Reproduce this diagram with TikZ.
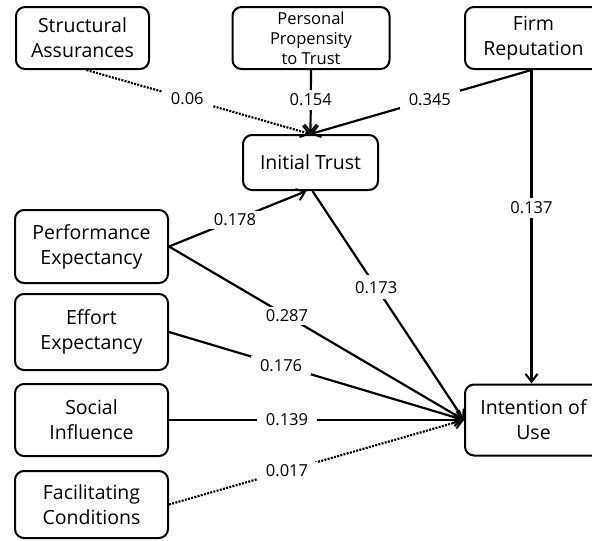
\documentclass[tikz,border=0pt]{standalone}
\usepackage{fontspec}
\setmainfont{Open Sans}
\usetikzlibrary{arrows.meta,calc}
\begin{document}
\begin{tikzpicture}[x=1pt,y=-1pt,
 box/.style={draw,line width=2pt,rounded corners=9pt,align=center,inner sep=0pt,font=\fontsize{19.5}{25}\selectfont},
 lbl/.style={fill=white,inner xsep=9pt,inner ysep=3pt,font=\fontsize{16.5}{20}\selectfont},
 conn/.style={line width=2.2pt,-{Straight Barb[length=8pt,width=12pt,line width=2pt]}},
 dots/.style={conn,dash pattern=on 2pt off 1.3pt}]
\useasboundingbox (0,0) rectangle (592,541);
\node[box,minimum width=133pt,minimum height=62pt] (SA) at (82.5,38) {Structural\\Assurances};
\node[box,minimum width=157pt,minimum height=62pt,font=\fontsize{16.5}{20}\selectfont] (PP) at (311,38) {Personal\\Propensity\\to Trust};
\node[box,minimum width=137pt,minimum height=62pt] (FR) at (533.5,38) {Firm\\Reputation};
\node[box,minimum width=135pt,minimum height=55pt] (IT) at (310.5,162.5) {Initial Trust};
\node[box,minimum width=153pt,minimum height=73pt] (PE) at (91.5,246.5) {Performance\\Expectancy};
\node[box,minimum width=153pt,minimum height=76pt] (EE) at (91.5,332) {Effort\\Expectancy};
\node[box,minimum width=153pt,minimum height=72pt] (SI) at (91.5,420) {Social\\Influence};
\node[box,minimum width=153pt,minimum height=67pt] (FC) at (91.5,504.5) {Facilitating\\Conditions};
\node[box,minimum width=137pt,minimum height=71pt] (IU) at (533.5,420) {Intention of\\Use};
\coordinate (SAb) at ($(SA.south)+(4,0)$);
\coordinate (FRb) at ($(FR.south)+(-2,0)$);
\coordinate (IUt) at ($(IU.north)+(-2,0)$);
\coordinate (ITs) at ($(IT.south)+(-4,0)$);
\coordinate (ITo) at ($(IT.south)+(2,0)$);
\draw[dots] (SAb) -- node[lbl,pos=0.45]{0.06} (IT.north);
\draw[conn] (PP.south) -- node[lbl,pos=0.47,inner ysep=4pt]{0.154} (IT.north);
\draw[conn] (FRb) -- node[lbl,pos=0.46]{0.345} (IT.north);
\draw[conn] (FRb) -- node[lbl,pos=0.44,inner ysep=4pt]{0.137} (IUt);
\draw[conn] (PE.east) -- node[lbl,pos=0.48,inner xsep=6pt]{0.178} (ITs);
\draw[conn] (ITo) -- node[lbl,pos=0.42,inner xsep=3pt,inner ysep=6pt]{0.173} (IU.west);
\draw[conn] (PE.east) -- node[lbl,pos=0.40,inner xsep=5pt]{0.287} (IU.west);
\draw[conn] (EE.east) -- node[lbl,pos=0.38]{0.176} (IU.west);
\draw[conn] (SI.east) -- node[lbl,pos=0.40]{0.139} (IU.west);
\draw[dots] (FC.east) -- node[lbl,pos=0.40]{0.017} (IU.west);
\end{tikzpicture}
\end{document}
